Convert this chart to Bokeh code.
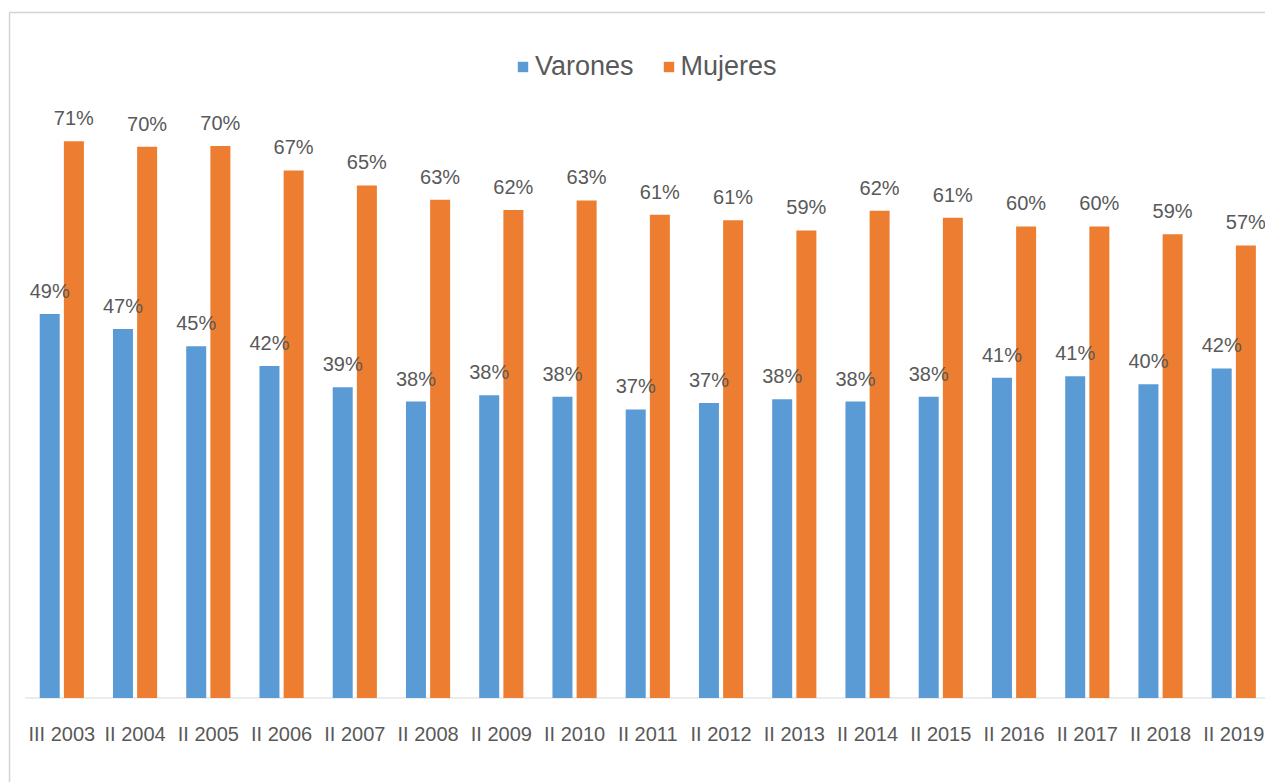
from bokeh.plotting import figure
from bokeh.models import ColumnDataSource, Range1d
from bokeh.core.properties import value
from bokeh.embed import file_html
from bokeh.resources import INLINE

categories = ["III 2003", "II 2004", "II 2005", "II 2006", "II 2007", "II 2008", "II 2009",
              "II 2010", "II 2011", "II 2012", "II 2013", "II 2014", "II 2015", "II 2016",
              "II 2017", "II 2018", "II 2019"]
varones = [48.7, 46.8, 44.6, 42.1, 39.4, 37.6, 38.4, 38.2, 36.6, 37.4, 37.9, 37.6, 38.2,
           40.6, 40.8, 39.8, 41.8]
mujeres = [70.6, 69.9, 70.0, 66.9, 65.0, 63.2, 61.9, 63.1, 61.3, 60.6, 59.3, 61.8, 60.9,
           59.8, 59.8, 58.8, 57.4]

W, H = 1265, 782
XS, XE = -0.3369, 16.933
YS, YE = -10.72, 88.46
FONT = value("Liberation Sans")
GRAY = "#595959"

idx = [i + 0.5 for i in range(len(categories))]
off = 0.165
src = ColumnDataSource(dict(
    xv=[x - off for x in idx], xm=[x + off for x in idx],
    v=varones, m=mujeres,
    lv=[f"{v:.0f}%" for v in varones], lm=[f"{m:.0f}%" for m in mujeres],
    xc=idx, cat=categories, ycat=[-4.63] * len(categories),
))

p = figure(width=W, height=H, x_range=Range1d(XS, XE), y_range=Range1d(YS, YE),
           x_axis_type=None, y_axis_type=None, output_backend="svg",
           toolbar_location=None, min_border=0)
p.outline_line_color = None
p.background_fill_color = "white"
p.border_fill_color = "white"

# chart-area border (left and top) and category baseline
xpp = (XE - XS) / W
ypp = (YE - YS) / H
p.segment(x0=[XS + 9 * xpp, XS + 9 * xpp], y0=[YE - 12 * ypp, YE - 12 * ypp],
          x1=[XS + 9 * xpp, XE], y1=[YS, YE - 12 * ypp],
          line_color="#d4d4d4", line_width=1.5)
p.segment(x0=[0], y0=[0], x1=[len(categories)], y1=[0], line_color="#d9d9d9", line_width=1)

p.vbar(x="xv", top="v", width=0.273, source=src, fill_color="#5B9BD5",
       line_color=None, legend_label="Varones")
p.vbar(x="xm", top="m", width=0.273, source=src, fill_color="#ED7D31",
       line_color=None, legend_label="Mujeres")

p.text(x="xv", y="v", text="lv", source=src, text_align="center",
       text_baseline="alphabetic", y_offset=-23, text_font=FONT,
       text_font_size="20px", text_color=GRAY)
p.text(x="xm", y="m", text="lm", source=src, text_align="center",
       text_baseline="alphabetic", y_offset=-23, text_font=FONT,
       text_font_size="20px", text_color=GRAY)

p.text(x="xc", y="ycat", text="cat", source=src, text_align="center",
       text_baseline="middle", text_font=FONT, text_font_size="20px", text_color=GRAY)

lg = p.legend[0]
lg.orientation = "horizontal"
lg.location = (516, 700)
lg.padding = 0
lg.margin = 0
lg.spacing = 28
lg.glyph_width = 13
lg.glyph_height = 13
lg.label_standoff = 6
lg.label_text_font = "Liberation Sans"
lg.label_text_font_size = "27px"
lg.label_text_color = GRAY
lg.border_line_color = None
lg.background_fill_alpha = 0

open("out.html", "w").write(file_html(p, INLINE))
